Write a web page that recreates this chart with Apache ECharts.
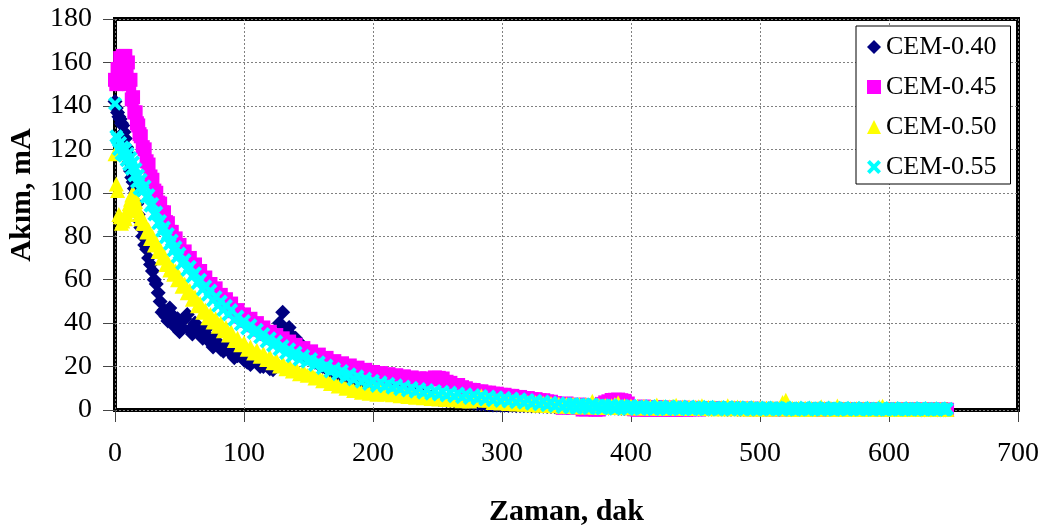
<!DOCTYPE html>
<html><head><meta charset="utf-8">
<script src="https://cdn.jsdelivr.net/npm/echarts@6/dist/echarts.min.js"></script>
<style>html,body{margin:0;padding:0;background:#fff}#c{width:1046px;height:529px}</style>
</head><body><div id="c"></div>
<script>
// first set of readings: time (min)
const times = [
  0,2,4,6,8,10,12,14,16,18,20,
  23,26,29,32,35,38,41,44,47,50,
  54,58,62,66,70,74,78,82,86,90,
  95,100,105,110,115,120,125,130,135,140,
  146,152,158,164,170,176,182,188,194,200,
  206,212,218,224,230,236,242,248,254,260,266,272,278,284,290,296,302,308,314,320,326,332,338,344,350,
  355,360,365,370,375,380,385,390,395,400,
  405,410,415,420,425,430,435,440,445,450,
  455,460,465,470,475,480,485,490,495,500,
  505,510,515,520,525,530,535,540,545,550,
  555,560,565,570,575,580,585,590,595,600,
  605,610,615,620,625,630,635,640,645
];
// second set of readings: time (min)
const timesB = [
  1,3,5,7,9,11,13,15,17,19,21.5,
  24.5,27.5,30.5,33.5,36.5,39.5,42.5,45.5,48.5,52,
  56,60,64,68,72,76,80,84,88,92.5,
  97.5,102.5,107.5,112.5,117.5,122.5,127.5,132.5,137.5,143,
  149,155,161,167,173,179,185,191,197,203,
  209,215,221,227,233,239,245,251,257,263,269,275,281,287,293,299,305,311,317,323,329,335,341,347,352.5,
  357.5,362.5,367.5,372.5,377.5,382.5,387.5,392.5,397.5,402.5,
  407.5,412.5,417.5,422.5,427.5,432.5,437.5,442.5,447.5,452.5,
  457.5,462.5,467.5,472.5,477.5,482.5,487.5,492.5,497.5,502.5,
  507.5,512.5,517.5,522.5,527.5,532.5,537.5,542.5,547.5,552.5,
  557.5,562.5,567.5,572.5,577.5,582.5,587.5,592.5,597.5,602.5,
  607.5,612.5,617.5,622.5,627.5,632.5,637.5,642.5,644
];
// current (mA)
const cem040 = [
  142,137,134,131,125,118,110,105,100,90,84,
  76,70,64,58,50,46,41,44,38,36,
  42,37,40,35,37,31,34,28,30,26,
  25,23,21,22,20,19,20,45,38,33,
  25,23,21,19,17,15.5,14,13,12,11,
  10.3,9.6,9,8.4,7.8,7.2,6.6,5.5,4.6,4.3,4,3.6,3.2,2.8,2.4,2.3,2.2,2.1,2,1.9,1.8,1.7,1.6,1.5,1.4,
  1.3,1.2,1.0,1.1,0.9,0.9,1.0,0.8,0.8,0.9,
  0.7,0.8,0.7,0.6,0.7,0.6,0.6,0.7,0.5,0.6,
  0.5,0.5,0.6,0.5,0.4,0.5,0.4,0.5,0.4,0.4,
  0.4,0.3,0.4,0.3,0.4,0.3,0.3,0.4,0.3,0.3,
  0.3,0.3,0.2,0.3,0.3,0.2,0.3,0.2,0.2,0.3,
  0.2,0.2,0.2,0.2,0.1,0.2,0.2,0.1,0.2
];
const cem040B = [
  139,135,132,128,121,114,107,102,95,87,80,
  74,67,60,54,45,43,47,40,42,38,
  44,35,38,33,34,29,31,27,28,24,
  26,22,24,20,21,18.5,40,37,34,31,
  24,22,20,18,16,14.7,13.5,12.5,11.5,10.6,
  10,9.3,8.7,8.1,7.5,6.9,6,5,4.4,4.1,3.8,3.4,3,2.6,2.3,2.2,2.1,2,1.9,1.8,1.7,1.6,1.5,1.4,1.3,
  1.2,1.1,1.0,1.0,0.9,0.9,0.9,0.8,0.8,0.8,
  0.7,0.7,0.7,0.6,0.6,0.6,0.6,0.6,0.5,0.5,
  0.5,0.5,0.5,0.5,0.4,0.4,0.4,0.4,0.4,0.4,
  0.4,0.3,0.3,0.3,0.3,0.3,0.3,0.3,0.3,0.3,
  0.3,0.3,0.2,0.2,0.2,0.2,0.2,0.2,0.2,0.2,
  0.2,0.2,0.2,0.2,0.1,0.1,0.1,0.1,0.1
];
const cem045 = [
  152,157,162,163,163,160,152,144,137,131,126,
  120,113,106,100,95,91,86,82,79,76,
  73,70,67,64,61,58,56,53,51,49,
  46,44,42,40,38,36,34.5,33,31.5,30,
  28.5,27,25.5,24,22.5,21.5,20.5,19.5,18.5,17.5,
  17,16.5,16,15.5,15,14.6,14.5,15,14.5,12.5,11.5,10,9.2,8.6,8,7.5,7,6.5,6,5.5,5,4.5,3.8,2,3,
  1.0,2.5,0.3,2.2,0.2,3.5,4.6,4.8,4.2,0.8,
  0.1,1.6,0.1,1.4,0.1,1.2,0.1,1.1,0.3,1.0,
  0.9,0.8,0.8,0.7,0.7,0.7,0.6,0.6,0.6,0.5,
  0.5,0.5,0.5,0.4,0.4,0.4,0.4,0.4,0.3,0.3,
  0.3,0.3,0.3,0.3,0.3,0.2,0.2,0.2,0.2,0.2,
  0.2,0.2,0.2,0.2,0.2,0.1,0.1,0.1,0.1
];
const cem045B = [
  150,151,153,155,154,150,143,137,132,127,121,
  114.5,107.5,101,95.5,91,86.5,82,78.5,75.5,72.5,
  69.5,66.5,63.5,60.5,57.5,55,52.5,50,48,45.5,
  43,41,39,37,35,33.2,31.7,30.2,28.7,27.2,
  26.2,24.7,23.2,21.7,20.5,19.5,18.5,17.5,16.5,15.7,
  15.5,15,14.5,14,13.6,13.5,14,14.8,13,11.5,10.5,9.3,8.5,8,7.5,7,6.5,6,5.5,5,4.5,4,3.2,1,1.5,
  2.0,0.2,1.5,0.1,2.8,4.0,4.7,4.5,3.0,0.3,
  1.2,0.1,1.0,0.1,0.9,0.1,0.8,0.1,0.7,0.2,
  0.6,0.6,0.5,0.5,0.5,0.5,0.4,0.4,0.4,0.4,
  0.3,0.3,0.3,0.3,0.3,0.3,0.3,0.2,0.2,0.2,
  0.2,0.2,0.2,0.2,0.2,0.2,0.1,0.1,0.1,0.1,
  0.1,0.1,0.1,0.1,0.1,0.1,0.1,0.1,0.1
];
const cem050 = [
  118,101,89,87,88,92,97,100,96,92,88,
  86,83,80,77,74,71,68,66,64,61,
  58,55,52,49,46,44,42,40,38,36,
  33,31,29,27.5,26,24.5,23,21.5,20.5,19.5,
  18,17,15.5,14.5,13,12,11,10,9.5,9,
  8.6,8.2,7.8,7.4,7.1,6.8,6.5,6.2,6,5.7,5.5,5.2,5,6.5,4.6,4.3,4.1,3.9,3.7,3.5,3.3,3.1,3,2.8,2.7,
  2.6,2.5,2.4,4.0,2.2,2.1,2.0,3.3,1.9,1.8,
  1.7,1.7,1.6,2.3,1.5,1.5,2.2,1.4,1.4,1.3,
  2.0,1.3,1.2,1.2,1.9,1.1,1.1,1.0,1.0,1.0,
  0.9,0.9,0.9,4.5,0.8,0.8,0.8,0.7,0.7,0.7,
  0.7,1.8,0.6,0.6,0.6,0.6,0.5,0.5,1.7,0.5,
  0.5,0.5,0.4,0.4,0.4,0.4,0.4,0.3,0.3
];
const cem050B = [
  104,90,86,89,90,95,99,98,93,90,86,
  82,79,76,73,70,67,64.5,62.5,60,57,
  54,51,48,45,42.5,40.5,38.5,36.5,34.5,32,
  30,28,26.2,24.7,23.2,21.7,20.2,19,18,16.7,
  16,14.7,13.5,12.2,11,10,9,8.2,7.7,7.3,
  7.4,7,6.6,6.2,5.9,5.6,5.3,5.1,4.8,4.6,4.3,4.1,4.8,4.5,3.4,3.2,3,2.8,2.6,2.4,2.2,2.1,1.9,1.7,1.6,
  1.5,1.4,1.6,1.3,1.2,1.2,2.5,1.1,1.0,1.0,
  0.9,0.9,0.9,0.8,0.8,1.7,0.8,0.7,0.7,1.5,
  0.7,0.6,0.6,0.6,0.6,1.4,0.5,0.5,0.5,0.5,
  0.5,0.5,3.5,0.4,0.4,0.4,0.4,0.4,1.5,0.4,
  0.3,0.3,0.3,0.3,0.3,0.3,0.3,1.4,0.3,0.3,
  0.2,0.2,0.2,0.2,0.2,0.2,0.2,0.2,0.2
];
const cem055 = [
  141,125,123,121,120,118,116,114,111,108,106,
  103,99,95,91,87,84,81,78,75,72,
  69,66,63,60,57,55,52,50,48,46,
  43,41,39,37,35,33,31.5,29.5,28,26.5,
  25,23.5,22,20.5,19,18,16.5,15.5,14.5,13.5,
  12.8,12.1,11.4,10.8,10.2,9.7,9.2,8.8,8.4,8,7.6,7.2,6.9,6.5,6.2,5.9,5.6,5.3,5,4.6,4.3,3.9,3.5,3.1,2.8,
  2.8,2.5,2.3,2.6,2.1,1.9,2.2,1.8,1.6,2.0,
  1.6,1.3,1.8,1.4,1.2,1.7,1.3,1.1,1.6,1.2,
  1.0,1.5,1.1,0.9,1.4,1.0,0.9,1.3,0.9,0.8,
  1.2,0.9,0.8,1.2,0.8,0.7,1.1,0.8,0.7,1.1,
  0.7,0.7,1.0,0.7,0.6,1.0,0.7,0.6,0.9,0.6,
  0.6,0.9,0.6,0.6,0.9,0.6,0.5,0.8,0.6
];
const cem055B = [
  126,120,118,117,115,113,111,108,105,102,101,
  98,94,90,86,82.5,79.5,76.5,73.5,70.5,67.5,
  64.5,61.5,58.5,55.5,53,50.5,48,46,44,41.5,
  39.5,37.5,35.5,33.5,31.5,29.7,28,26.2,24.7,23.2,
  22.2,20.7,19.2,17.7,16.5,15.2,14,13,12,11.1,
  10.9,10.2,9.6,9,8.4,7.9,7.5,7.1,6.7,6.3,5.9,5.5,5.2,4.8,4.5,4.2,3.9,3.6,3.3,2.9,2.6,2.2,1.8,1.4,1.2,
  1.0,1.4,0.8,1.2,0.7,1.1,0.6,1.0,0.5,0.9,
  0.5,0.8,0.4,0.7,0.4,0.7,0.3,0.6,0.3,0.6,
  0.3,0.5,0.2,0.5,0.2,0.5,0.2,0.4,0.2,0.4,
  0.2,0.4,0.1,0.4,0.1,0.3,0.1,0.3,0.1,0.3,
  0.1,0.3,0.1,0.3,0.1,0.2,0.1,0.2,0.1,0.2,
  0.1,0.2,0.1,0.2,0.1,0.2,0.1,0.1,0.1
];
const seriesNames = ['CEM-0.40','CEM-0.45','CEM-0.50','CEM-0.55'];
const seriesValues = [cem040, cem045, cem050, cem055];
const seriesValuesB = [cem040B, cem045B, cem050B, cem055B];
const seriesColors = ['#000080','#FF00FF','#FFFF00','#00FFFF'];
const xAxisTitle = 'Zaman, dak';
const yAxisTitle = 'Akım, mA';

const crossPath = 'path://M0,2L2,0L5,3L8,0L10,2L7,5L10,8L8,10L5,7L2,10L0,8L3,5Z';
const symbols = ['diamond','rect','triangle',crossPath];
const sizes = [15,14,15,14];
const legendSizes = 14;
const font = '"Liberation Serif", "Times New Roman", serif';

const chart = echarts.init(document.getElementById('c'), null, {renderer:'canvas'});
chart.setOption({
  animation: false,
  backgroundColor: '#fff',
  grid: {left:115, right:28, top:19, bottom:119, containLabel:false, outerBoundsMode:'none',
         show:true, borderColor:'#000', borderWidth:4, backgroundColor:'transparent'},
  xAxis: {
    type:'value', min:0, max:700, interval:100,
    axisLine:{show:false},
    axisTick:{show:true, inside:false, length:12, lineStyle:{color:'#444', width:1}},
    axisLabel:{fontFamily:font, fontSize:28, color:'#000', margin:30},
    splitLine:{show:true, lineStyle:{color:'#808080', width:1, type:[2,2]}},
    name: xAxisTitle, nameLocation:'middle', nameGap:87,
    nameTextStyle:{fontFamily:font, fontSize:30, fontWeight:'bold', color:'#000'}
  },
  yAxis: {
    type:'value', min:0, max:180, interval:20,
    axisLine:{show:false},
    axisTick:{show:true, inside:false, length:12, lineStyle:{color:'#444', width:1}},
    axisLabel:{fontFamily:font, fontSize:28, color:'#000', margin:23},
    splitLine:{show:true, lineStyle:{color:'#808080', width:1, type:[2,2]}}
  },
  legend: {
    orient:'vertical', left:856, top:26,
    padding:[8,14,4,11], itemGap:14, itemWidth:legendSizes, itemHeight:legendSizes,
    backgroundColor:'#fff', borderColor:'#000', borderWidth:1,
    textStyle:{fontFamily:font, fontSize:26, color:'#000', lineHeight:26},
    data: seriesNames.map((n,i)=>({name:n, icon:symbols[i]}))
  },
  graphic: [{
    type:'text', x:22, y:195, rotation:Math.PI/2,
    style:{text:yAxisTitle, font:'bold 30px "Liberation Serif"', fill:'#000', align:'center', verticalAlign:'middle'}
  }],
  series: seriesNames.map((n,i)=>({
    name:n, type:'scatter', clip:false,
    symbol:symbols[i], symbolSize:sizes[i],
    itemStyle:{color:seriesColors[i], opacity:1},
    emphasis:{disabled:true},
    data: times.map((t,k)=>[t, seriesValues[i][k]])
          .concat(timesB.map((t,k)=>[t, seriesValuesB[i][k]]))
  }))
});
</script>
</body></html>
